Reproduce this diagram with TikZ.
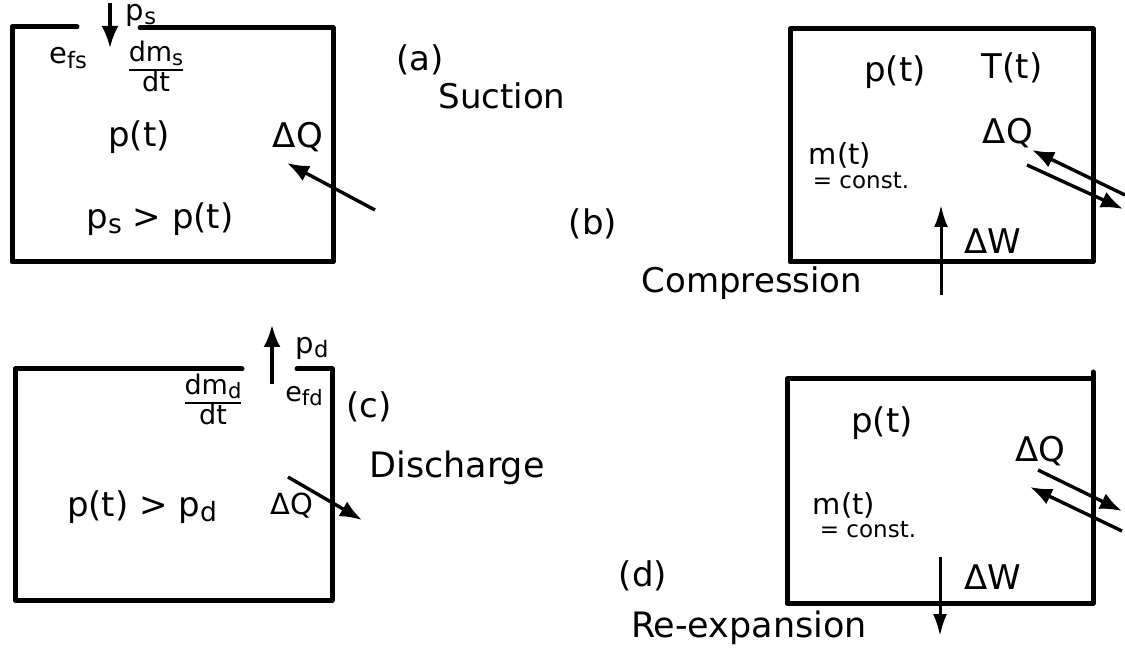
\documentclass[tikz,border=0pt]{standalone}
\usepackage{fontspec}
\setmainfont{DejaVu Sans}
\usetikzlibrary{arrows.meta}
\setlength\arrayrulewidth{2.5pt}
\newcommand{\sbs}[1]{\raisebox{-0.28ex}{\scalebox{0.78}{#1}}}
\newcommand{\fs}[1]{\fontsize{#1}{#1}\selectfont}
\begin{document}
\begin{tikzpicture}[x=1pt,y=-1pt,
  boxline/.style={line width=5pt, line cap=round, line join=round},
  flow/.style={line width=3.4pt, -{Latex[length=22pt,width=17pt]}},
  work/.style={line width=3pt, -{Latex[length=22pt,width=14pt]}},
  lbl/.style={inner sep=0pt, font=\fs{34}},
  big/.style={inner sep=0pt, font=\fs{35}},
  mid/.style={inner sep=0pt, font=\fs{29}},
  sml/.style={inner sep=0pt, font=\fs{23}},
  frac/.style={inner sep=0pt, font=\fs{27}}]
\useasboundingbox (0,0) rectangle (1125,652);
\fill[white] (0,0) rectangle (1125,652);

% ---------- (a) Suction ----------
\draw[boxline] (77,27) -- (12,27) -- (12,262) -- (333,262) -- (333,28) -- (140,28);
\coordinate (as1) at (110,3);
\coordinate (as2) at (110,48);
\draw[flow] (as1) -- (as2);
\node[mid] (ps) at (141,15) {p\sbs{s}};
\node[mid] (efs) at (68,58) {e\sbs{fs}};
\node[frac] (dms) at (156,70) {\renewcommand\arraystretch{0.85}\begin{tabular}{@{}c@{}}dm\sbs{s}\\\hline dt\end{tabular}};
\node[lbl] (pa) at (139,137) {p(t)};
\node[lbl] (dqa) at (298,137) {ΔQ};
\node[lbl] (psgt) at (160,219) {p\sbs{s} > p(t)};
\coordinate (qa1) at (375,210);
\coordinate (qa2) at (287,163);
\draw[flow] (qa1) -- (qa2);
\node[lbl] (la) at (420,60) {(a)};
\node[lbl] (suction) at (502,96) {Suction};

% ---------- (b) Compression ----------
\draw[boxline] (790,29) rectangle (1093,262);
\node[lbl] (pb) at (895,72) {p(t)};
\node[lbl] (tb) at (1012,68) {T(t)};
\node[lbl] (dqb) at (1008,133) {ΔQ};
\node[mid] (mb) at (840,155) {m(t)};
\node[sml] (cb) at (861,181) {= const.};
\node[lbl] (dwb) at (993,241) {ΔW};
\coordinate (wb1) at (941,295);
\coordinate (wb2) at (941,205);
\draw[work] (wb1) -- (wb2);
\coordinate (qb1) at (1125,195);
\coordinate (qb2) at (1032,150);
\draw[flow] (qb1) -- (qb2);
\coordinate (qb3) at (1027,165);
\coordinate (qb4) at (1123,209);
\draw[flow] (qb3) -- (qb4);
\node[lbl] (lb) at (593,224) {(b)};
\node[lbl] (compression) at (752,283) {Compression};

% ---------- (c) Discharge ----------
\draw[boxline] (242,369) -- (15,369) -- (15,600) -- (332,600) -- (332,369) -- (297,369);
\coordinate (dc1) at (272,384);
\coordinate (dc2) at (272,325);
\draw[flow] (dc1) -- (dc2);
\node[mid] (pdc) at (312,348) {p\sbs{d}};
\node[frac] (dmd) at (213,403) {\renewcommand\arraystretch{0.85}\begin{tabular}{@{}c@{}}dm\sbs{d}\\\hline dt\end{tabular}};
\node[frac] (efd) at (304,396) {e\sbs{fd}};
\node[lbl] (lc) at (369,407) {(c)};
\node[big] (discharge) at (457,468) {Discharge};
\node[mid] (dqc) at (292,506) {ΔQ};
\node[lbl] (ptgt) at (142,507) {p(t) > p\sbs{d}};
\coordinate (qc1) at (288,477);
\coordinate (qc2) at (362,520);
\draw[flow] (qc1) -- (qc2);

% ---------- (d) Re-expansion ----------
\draw[boxline] (787,379) rectangle (1093,603);
\draw[boxline] (1093,379) -- (1093,372);
\node[lbl] (pdd) at (882,423) {p(t)};
\node[lbl] (dqd) at (1040,451) {ΔQ};
\node[mid] (md) at (844,505) {m(t)};
\node[sml] (cd) at (868,530) {= const.};
\node[lbl] (dwd) at (993,577) {ΔW};
\coordinate (wd1) at (940,557);
\coordinate (wd2) at (940,636);
\draw[work] (wd1) -- (wd2);
\coordinate (qd1) at (1038,470);
\coordinate (qd2) at (1122,511);
\draw[flow] (qd1) -- (qd2);
\coordinate (qd3) at (1122,531);
\coordinate (qd4) at (1030,487);
\draw[flow] (qd3) -- (qd4);
\node[lbl] (ld) at (643,576) {(d)};
\node[big] (reexp) at (749,628) {Re-expansion};
\end{tikzpicture}
\end{document}
